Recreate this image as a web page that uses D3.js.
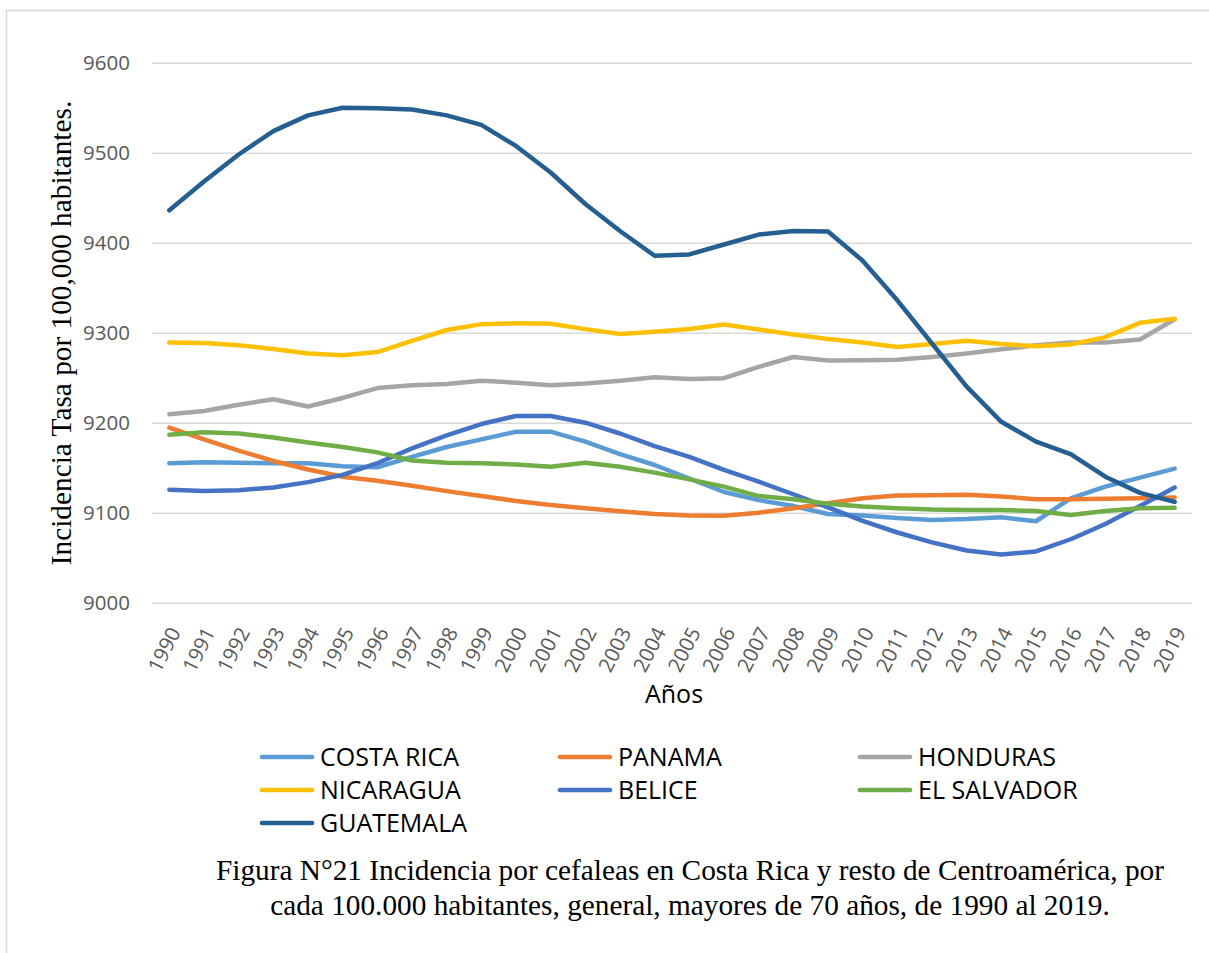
<!DOCTYPE html>
<html>
<head>
<meta charset="utf-8">
<script src="https://cdn.jsdelivr.net/npm/d3@7"></script>
<style>
  html, body { margin: 0; padding: 0; background: #ffffff; }
  svg { display: block; }
</style>
</head>
<body>
<svg id="chart" width="1209" height="953"></svg>
<script>
const years = [1990, 1991, 1992, 1993, 1994, 1995, 1996, 1997, 1998, 1999,
               2000, 2001, 2002, 2003, 2004, 2005, 2006, 2007, 2008, 2009,
               2010, 2011, 2012, 2013, 2014, 2015, 2016, 2017, 2018, 2019];

const yTicks = [9000, 9100, 9200, 9300, 9400, 9500, 9600];

const costaRica = [9155, 9156, 9155.6, 9155, 9155, 9151.5, 9150.5, 9162, 9173, 9181.5,
                   9190, 9190, 9179, 9165, 9153, 9138, 9123, 9114, 9107.5, 9098.5,
                   9097, 9094, 9092, 9093, 9095, 9090.5, 9116, 9129, 9139, 9149];
const panama = [9194.5, 9181.5, 9169, 9157.5, 9148, 9140, 9135.5, 9130, 9124, 9118.5,
                9113, 9108.5, 9105, 9101.5, 9098.5, 9097, 9096.5, 9100, 9105, 9110.5,
                9116, 9119, 9119.5, 9120, 9118, 9115, 9115, 9115.5, 9116, 9117];
const honduras = [9209.5, 9213, 9220, 9226, 9218, 9227.5, 9238.5, 9241.5, 9243, 9246.5,
                  9244.5, 9241.5, 9243.5, 9246.5, 9250.5, 9248.5, 9249.5, 9262, 9273, 9269,
                  9269.5, 9270, 9273, 9277, 9281.5, 9286, 9289, 9289, 9292.5, 9315];
const nicaragua = [9289, 9288.5, 9286, 9282, 9277, 9275, 9278.5, 9291, 9303, 9309.5,
                   9310.5, 9310, 9304, 9298.5, 9301, 9304, 9309, 9303.5, 9298, 9293,
                   9289, 9284, 9287.5, 9291, 9287.5, 9285, 9287, 9295, 9311, 9315.5];
const belice = [9125.5, 9124, 9125, 9128, 9134, 9142, 9155, 9171.5, 9186, 9198.5,
                9207.5, 9207.5, 9200, 9188, 9174, 9162, 9147.5, 9134.5, 9120.5, 9106,
                9091, 9078, 9067, 9058, 9053.5, 9057, 9070.5, 9087.5, 9107.5, 9128];
const elSalvador = [9186.5, 9189.5, 9188, 9183.5, 9178, 9173, 9167, 9158, 9155.5, 9155,
                    9153.5, 9151, 9155.5, 9151, 9144.5, 9137, 9129, 9118.5, 9115, 9110,
                    9107, 9105, 9103.5, 9103, 9103, 9102, 9097.5, 9102, 9105, 9105.5];
const guatemala = [9436, 9468, 9498, 9524, 9541.5, 9550, 9549.5, 9548, 9541.5, 9531,
                   9507.5, 9478, 9443, 9413, 9385.5, 9387, 9398, 9409, 9413, 9412.5,
                   9380, 9336, 9288, 9240, 9201, 9179, 9165, 9140, 9122, 9112];

const seriesNames = ["COSTA RICA", "PANAMA", "HONDURAS", "NICARAGUA", "BELICE", "EL SALVADOR", "GUATEMALA"];
const seriesValues = [costaRica, panama, honduras, nicaragua, belice, elSalvador, guatemala];
const seriesColors = ["#5B9BD5", "#ED7D31", "#A5A5A5", "#FFC000", "#4472C4", "#70AD47", "#255E91"];

const yTitle = "Incidencia  Tasa por 100,000 habitantes.";
const xTitle = "Años";
const captionLines = [
  "Figura N°21 Incidencia por cefaleas en Costa Rica y resto de Centroamérica, por",
  "cada 100.000 habitantes, general, mayores de 70 años, de 1990 al 2019."
];

const svg = d3.select("#chart");
const W = 1209, H = 953;
const plot = { left: 152, right: 1192, top: 62.7, bottom: 602.7 };

svg.append("rect").attr("width", W).attr("height", H).attr("fill", "#ffffff");
// chart area border (left and top visible)
svg.append("rect")
  .attr("x", 6.5).attr("y", 10.5)
  .attr("width", W + 20).attr("height", H + 20)
  .attr("fill", "none").attr("stroke", "#d9d9d9").attr("stroke-width", 1.5);

const x = d3.scalePoint().domain(years).range([plot.left, plot.right]).padding(0.5);
const y = d3.scaleLinear().domain([9000, 9600]).range([plot.bottom, plot.top]);

const tickFont = "'Open Sans', 'Noto Sans', sans-serif";
const serifFont = "'Liberation Serif', 'Times New Roman', serif";

// gridlines
const grid = svg.append("g")
  .attr("transform", `translate(${plot.left},0)`)
  .call(d3.axisLeft(y).tickValues(yTicks).tickSize(-(plot.right - plot.left)).tickFormat(""));
grid.select(".domain").remove();
grid.selectAll("line").attr("stroke", "#d9d9d9").attr("stroke-width", 1.5);

// y axis labels
const yAxis = svg.append("g")
  .attr("transform", `translate(${plot.left},0)`)
  .call(d3.axisLeft(y).tickValues(yTicks).tickSize(0).tickPadding(22).tickFormat(d3.format("d")));
yAxis.select(".domain").remove();
yAxis.selectAll("text")
  .attr("fill", "#595959")
  .style("font-family", tickFont)
  .style("font-size", "20.5px");

// x axis labels
const xAxis = svg.append("g")
  .attr("transform", `translate(0,${plot.bottom})`)
  .call(d3.axisBottom(x).tickSize(0).tickFormat(d3.format("d")));
xAxis.select(".domain").remove();
xAxis.selectAll("text")
  .attr("fill", "#595959")
  .style("font-family", tickFont)
  .style("font-size", "20.5px")
  .attr("text-anchor", "end")
  .attr("y", 0).attr("dy", "0.35em")
  .attr("transform", "translate(5,26) rotate(-63)");

// lines
const line = d3.line()
  .x((d, i) => x(years[i]))
  .y(d => y(d));

seriesValues.forEach((vals, k) => {
  svg.append("path")
    .datum(vals)
    .attr("d", line)
    .attr("fill", "none")
    .attr("stroke", seriesColors[k])
    .attr("stroke-width", 4.5)
    .attr("stroke-linejoin", "round")
    .attr("stroke-linecap", "round");
});

// y axis title
svg.append("text")
  .attr("transform", `translate(71,${(100 + 566) / 2}) rotate(-90)`)
  .attr("text-anchor", "middle")
  .style("font-family", serifFont)
  .style("font-size", "29.3px")
  .attr("fill", "#000000")
  .text(yTitle);

// x axis title
svg.append("text")
  .attr("x", 674).attr("y", 703)
  .attr("text-anchor", "middle")
  .style("font-family", tickFont)
  .style("font-size", "25px")
  .attr("fill", "#000000")
  .text(xTitle);

// legend
const legendCols = [260, 558, 858];
const legendRows = [757, 790, 823];
seriesNames.forEach((name, k) => {
  const cx = legendCols[k % 3];
  const cy = legendRows[Math.floor(k / 3)];
  const g = svg.append("g");
  g.append("line")
    .attr("x1", cx + 2).attr("x2", cx + 52)
    .attr("y1", cy).attr("y2", cy)
    .attr("stroke", seriesColors[k])
    .attr("stroke-width", 4.7)
    .attr("stroke-linecap", "round");
  g.append("text")
    .attr("x", cx + 60).attr("y", cy)
    .attr("dy", "0.36em")
    .style("font-family", tickFont)
    .style("font-size", "25px")
    .attr("fill", "#000000")
    .text(name);
});

// caption
captionLines.forEach((t, i) => {
  svg.append("text")
    .attr("x", 690).attr("y", 880 + i * 35)
    .attr("text-anchor", "middle")
    .style("font-family", serifFont)
    .style("font-size", "29.3px")
    .attr("fill", "#000000")
    .text(t);
});
</script>
</body>
</html>
